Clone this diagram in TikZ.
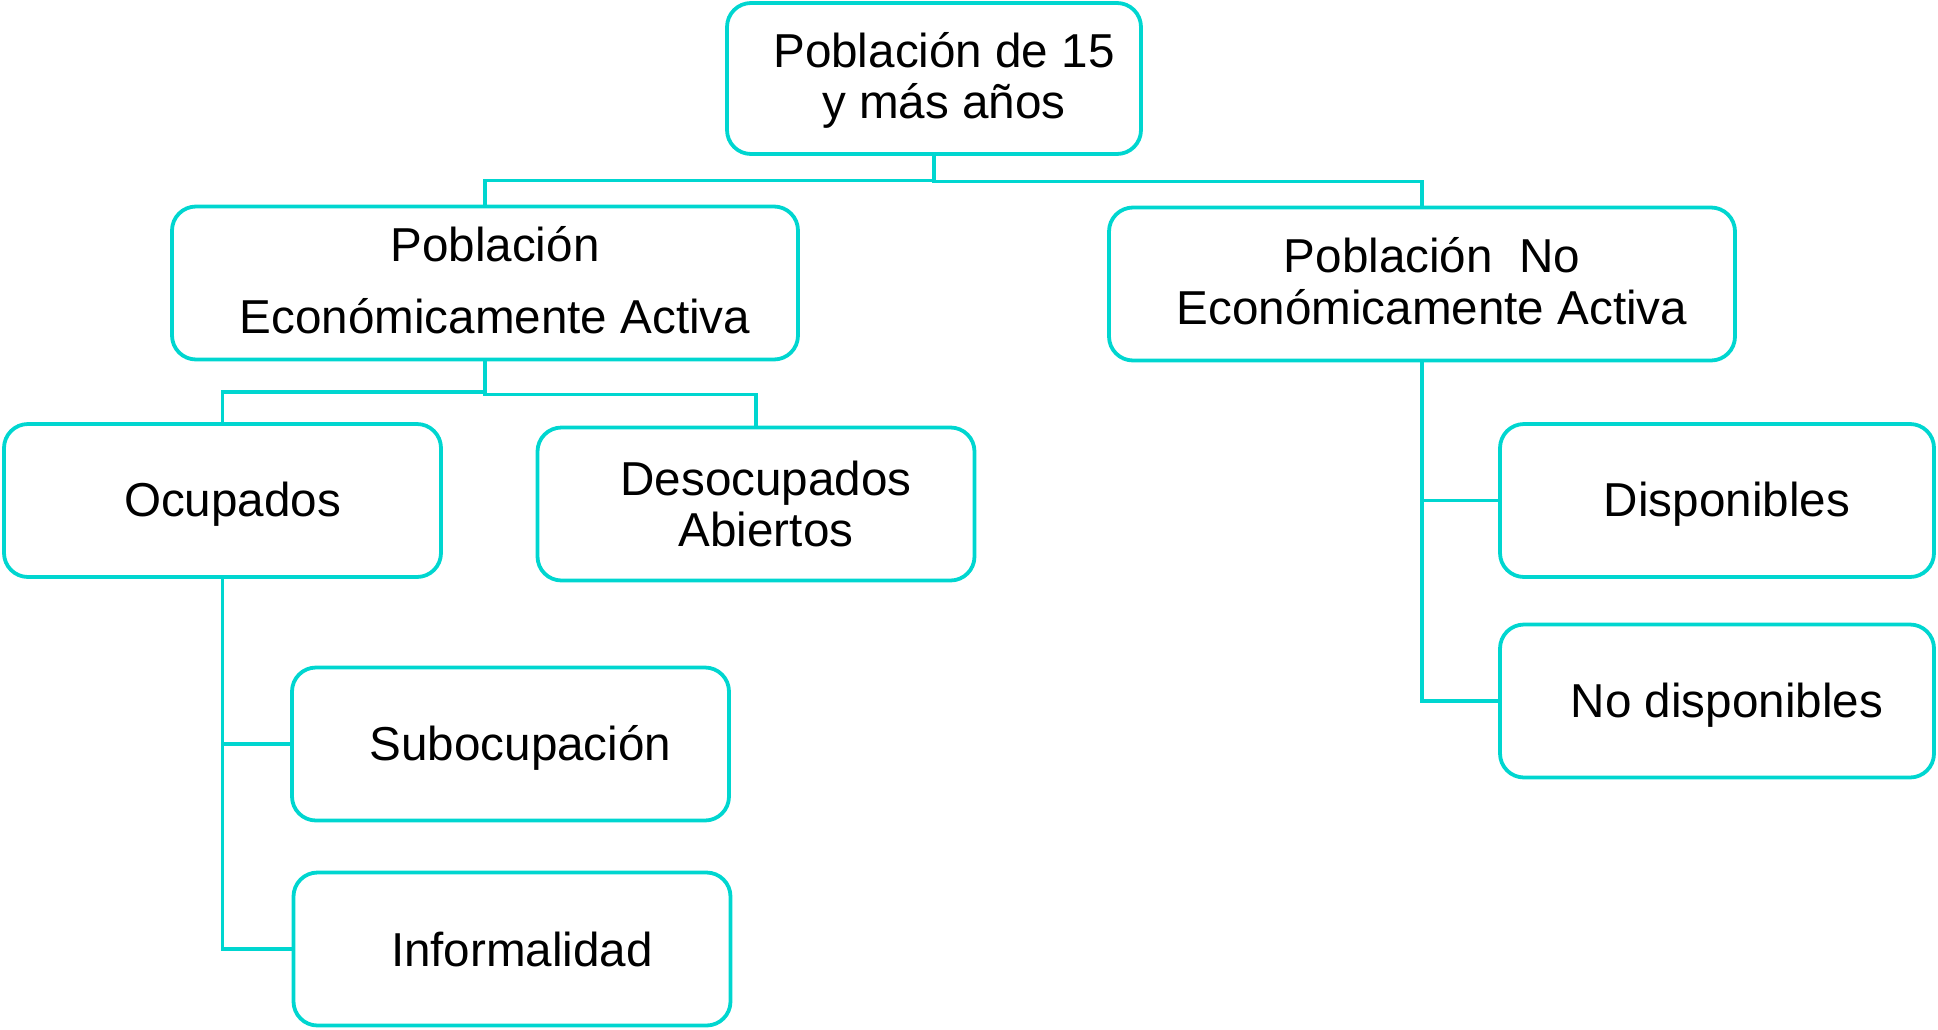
\documentclass[tikz,border=0pt]{standalone}
\usepackage{fontspec}
\setmainfont{Liberation Sans}
\definecolor{turq}{RGB}{0,214,208}

\begin{document}
\begin{tikzpicture}[x=0.5pt,y=-0.5pt]
  \tikzset{box/.style = {draw=turq,line width=1.9pt,rounded corners=12pt,minimum width=218.5pt,minimum height=76.5pt,inner sep=0pt}}
  \tikzset{widebox/.style = {box,minimum width=313pt}}
  \tikzset{txt/.style = {font=\fontsize{23.8}{25.5}\selectfont,align=center,xshift=5pt,inner sep=0pt}}
  \tikzset{link/.style = {draw=turq,line width=1.9pt}}

  \useasboundingbox (0,0) rectangle (1938,1029);

  \node[box,minimum width=207pt,minimum height=75.5pt,label={[txt,yshift=-1pt]center:Población de 15\\y más años}] (P15) at (934,78.5) {};

  \node[widebox,label={[txt,yshift=1.5pt,font=\fontsize{23.8}{35.8}\selectfont]center:Población\\Económicamente Activa}] (PEA) at (485,283) {};
  \node[widebox,label={[txt,yshift=1.5pt,font=\fontsize{23.8}{26}\selectfont]center:Población\ \ No\\Económicamente Activa}] (PNEA) at (1422,284) {};

  \node[box,label={[txt,yshift=-2pt]center:Ocupados}] (OCU) at (222.5,500.5) {};
  \node[box,label={[txt]center:Desocupados\\Abiertos}] (DES) at (756,504) {};

  \node[box,label={[txt,yshift=-2pt]center:Subocupación}] (SUB) at (510.5,744) {};
  \node[box,label={[txt]center:Informalidad}] (INF) at (512,949) {};

  \node[box,minimum width=217pt,label={[txt,yshift=-2pt]center:Disponibles}] (DIS) at (1717,500.5) {};
  \node[box,minimum width=217pt,label={[txt,yshift=-2pt]center:No disponibles}] (NDIS) at (1717,701) {};

  \foreach \from/\to/\d in {P15/PEA/24.5, P15/PNEA/25.5, PEA/OCU/30.5, PEA/DES/33}
    \draw[link] (\from.south) -- ++(0,\d) -| (\to.north);

  \foreach \from/\to in {OCU/SUB, OCU/INF, PNEA/DIS, PNEA/NDIS}
    \draw[link] (\from.south) |- (\to.west);

\end{tikzpicture}
\end{document}
